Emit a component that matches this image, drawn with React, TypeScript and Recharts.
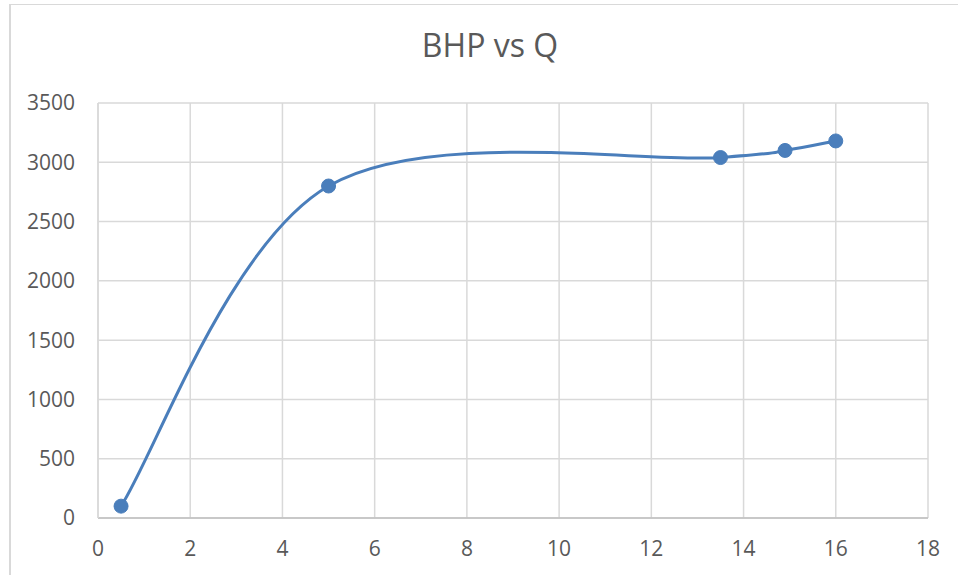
import React from 'react';
import { LineChart, Line, XAxis, YAxis, CartesianGrid } from 'recharts';

const qValues = [0.5, 5, 13.5, 14.9, 16];
const bhpValues = [100, 2800, 3040, 3100, 3180];
const xTicks = [0, 2, 4, 6, 8, 10, 12, 14, 16, 18];
const yTicks = [0, 500, 1000, 1500, 2000, 2500, 3000, 3500];
const title = 'BHP vs Q';

const data = qValues.map((q, i) => ({ q, bhp: bhpValues[i] }));

// Excel-like smoothed line (uniform Catmull-Rom as cubic Bezier)
const excelSmooth = (context: any) => {
  let pts: number[][] = [];
  return {
    areaStart() {},
    areaEnd() {},
    lineStart() {
      pts = [];
    },
    point(x: number, y: number) {
      pts.push([+x, +y]);
    },
    lineEnd() {
      const n = pts.length;
      if (!n) return;
      context.moveTo(pts[0][0], pts[0][1]);
      for (let i = 0; i < n - 1; i++) {
        const p0 = pts[Math.max(i - 1, 0)];
        const p1 = pts[i];
        const p2 = pts[i + 1];
        const p3 = pts[Math.min(i + 2, n - 1)];
        const c1x = p1[0] + (p2[0] - p0[0]) / 6;
        const c1y = p1[1] + (p2[1] - p0[1]) / 6;
        const c2x = p2[0] - (p3[0] - p1[0]) / 6;
        const c2y = p2[1] - (p3[1] - p1[1]) / 6;
        context.bezierCurveTo(c1x, c1y, c2x, c2y, p2[0], p2[1]);
      }
    },
  };
};

const tickStyle = { fill: '#595959', fontSize: 21, fontFamily: '"Open Sans", sans-serif' };

export default function App() {
  return (
    <div style={{ position: 'absolute', left: 0, top: 0, width: 958, height: 575, overflow: 'hidden', background: '#fff' }}>
      <div
        style={{
          position: 'absolute',
          left: 9,
          top: 4,
          width: 1000,
          height: 700,
          borderLeft: '2px solid #d9d9d9',
          borderTop: '1.5px solid #d9d9d9',
          boxSizing: 'border-box',
        }}
      />
      <div
        style={{
          position: 'absolute',
          left: 0,
          width: 980,
          top: 29,
          lineHeight: '32px',
          textAlign: 'center',
          fontFamily: '"Open Sans", sans-serif',
          fontSize: 32,
          color: '#595959',
        }}
      >
        {title}
      </div>
      <div style={{ position: 'absolute', left: 0, top: 0 }}>
        <LineChart width={958} height={575} data={data} margin={{ top: 103, right: 30, left: 0, bottom: 0 }}>
          <CartesianGrid stroke="#d9d9d9" strokeWidth={1.5} />
          <XAxis
            type="number"
            dataKey="q"
            domain={[0, 18]}
            ticks={xTicks}
            height={57}
            tickLine={false}
            tickMargin={17}
            axisLine={{ stroke: '#bfbfbf', strokeWidth: 1.5 }}
            tick={tickStyle}
            interval={0}
          />
          <YAxis
            type="number"
            domain={[0, 3500]}
            ticks={yTicks}
            width={98}
            tickLine={false}
            tickMargin={17}
            axisLine={{ stroke: '#d9d9d9', strokeWidth: 1.5 }}
            tick={tickStyle}
            interval={0}
          />
          <Line
            dataKey="bhp"
            type={excelSmooth as any}
            stroke="#4a7ebb"
            strokeWidth={3}
            dot={{ r: 7, fill: '#4a7ebb', stroke: '#4a7ebb', strokeWidth: 1 }}
            isAnimationActive={false}
          />
        </LineChart>
      </div>
    </div>
  );
}
